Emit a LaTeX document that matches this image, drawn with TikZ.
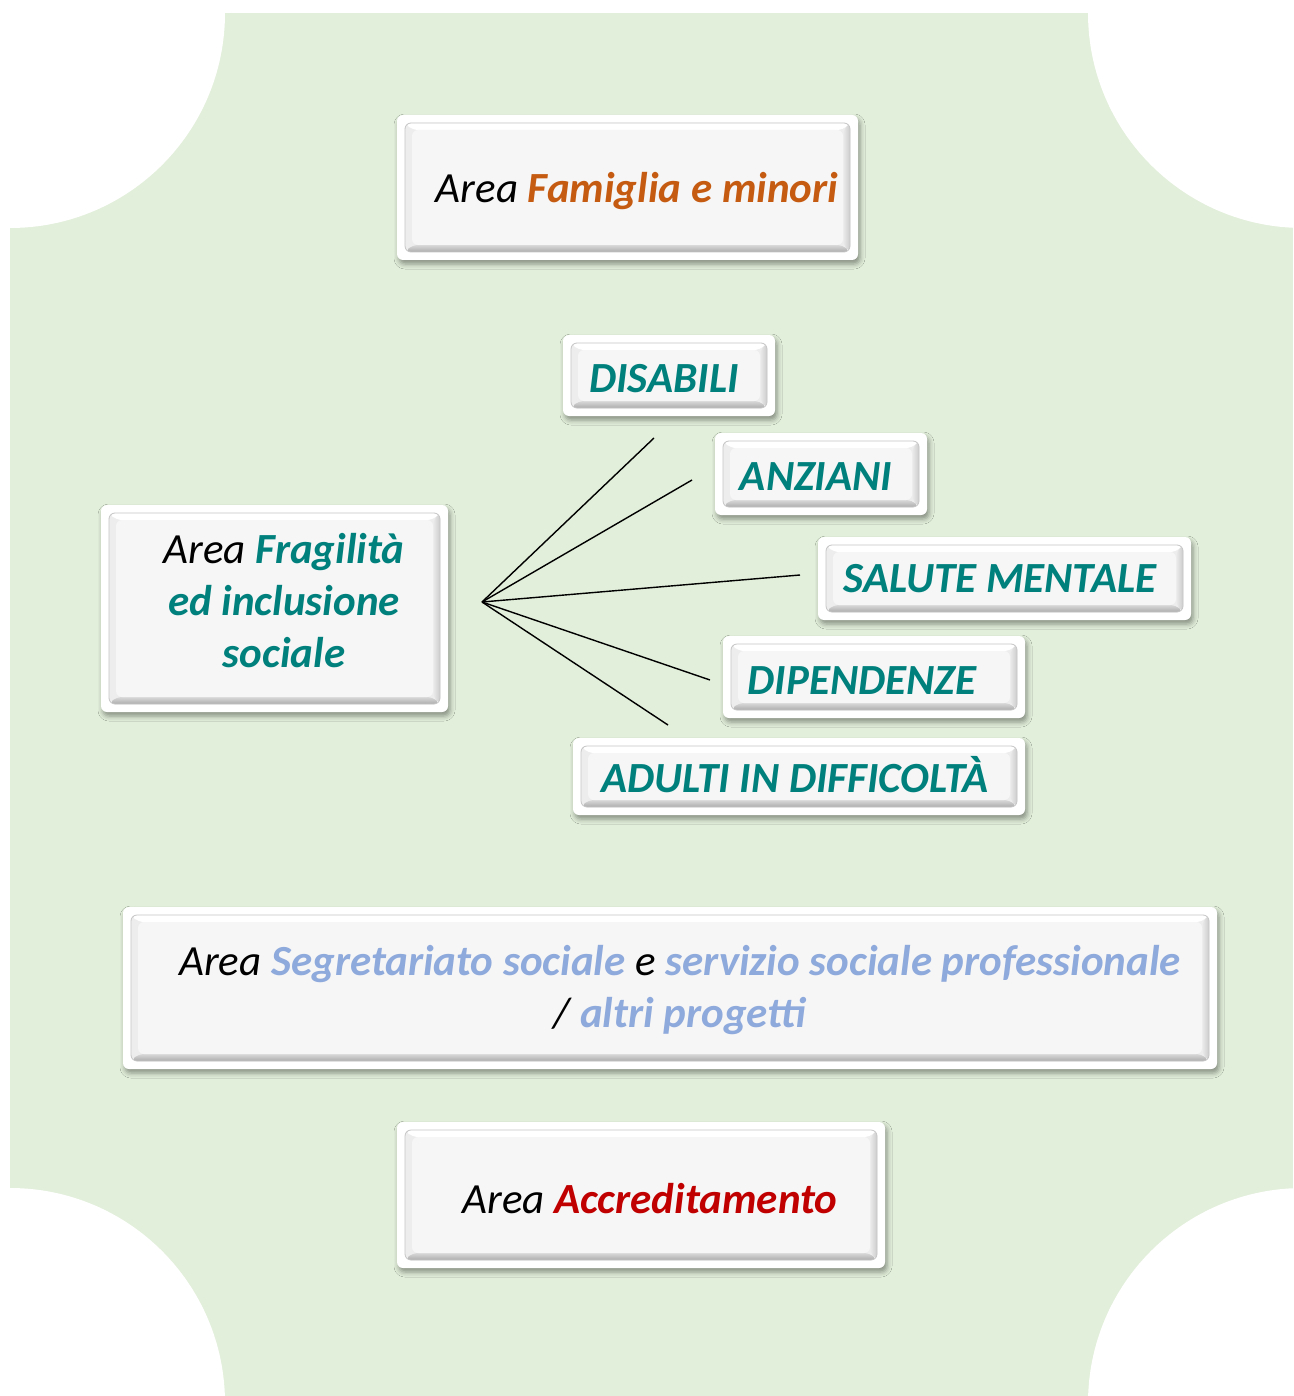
\documentclass[tikz,border=0pt]{standalone}
\usepackage{fontspec}
\setmainfont{Carlito}
\usetikzlibrary{shadows.blur,calc}
\definecolor{bggreen}{HTML}{E2EFDA}
\definecolor{teal}{RGB}{0,128,125}
\definecolor{orng}{RGB}{197,90,17}
\definecolor{dred}{RGB}{192,0,0}
\definecolor{lblue}{RGB}{142,169,219}
\definecolor{face}{HTML}{F6F6F6}
\newcommand\bevpart[2]{%
  \path[#1] let \p1=(path picture bounding box.north west),
               \p2=(path picture bounding box.south east),
               \n1={8pt}, \n2={15pt} in #2;}
\newcommand\bev{%
  \bevpart{fill=gray!14}{(\x1+\n1,\y1-\n1) rectangle (\x2-\n1,\y2+\n1)}%
  \bevpart{fill=white}{(\x1+\n1,\y1-\n1) -- (\x2-\n1,\y1-\n1) -- (\x2-\n2,\y1-\n2) -- (\x1+\n2,\y1-\n2) -- cycle}%
  \bevpart{top color=gray!30,bottom color=gray!65}{(\x1+\n1,\y2+\n1) -- (\x2-\n1,\y2+\n1) -- (\x2-\n2,\y2+\n2) -- (\x1+\n2,\y2+\n2) -- cycle}%
  \bevpart{left color=gray!15,right color=gray!40}{(\x2-\n1,\y1-\n1) -- (\x2-\n1,\y2+\n1) -- (\x2-\n2,\y2+\n2) -- (\x2-\n2,\y1-\n2) -- cycle}%
  \bevpart{fill=face}{(\x1+\n2,\y1-\n2) rectangle (\x2-\n2,\y2+\n2)}%
  \bevpart{draw=gray!45,line width=0.8pt}{(\x1+\n1,\y1-\n1) rectangle (\x2-\n1,\y2+\n1)}%
}
\tikzset{
  box/.style={rectangle, rounded corners=6pt, fill=white, inner sep=0pt,
    blur shadow={shadow xshift=2pt, shadow yshift=-4pt, shadow opacity=40, shadow blur radius=5pt},
    path picture={\bev}},
  lbl/.style={font=\fontsize{43}{52}\selectfont, align=center, inner sep=0pt},
  tt/.style={font=\fontsize{43}{52}\selectfont\bfseries\itshape, text=teal, inner sep=0pt},
  spoke/.style={line width=1.4pt, black}
}
\begin{document}
\begin{tikzpicture}[x=1pt,y=-1pt]
\useasboundingbox (0,0) rectangle (1293,1396);
\begin{scope}
\clip (0,0) rectangle (1293,1396);
\fill[bggreen] (10,13) rectangle (1293,1396);
\fill[white] (10,13) circle (215pt) (1303,13) circle (215pt)
             (10,1403) circle (215pt) (1303,1403) circle (215pt);
\end{scope}

% boxes
\node[box, minimum width=461pt, minimum height=145pt] (fam) at (627.5,187.5) {};
\node[box, minimum width=347pt, minimum height=207pt] (frag) at (274.5,608.5) {};
\node[box, minimum width=212pt, minimum height=81pt] (dis) at (669,375.5) {};
\node[box, minimum width=212pt, minimum height=82pt] (anz) at (821,474) {};
\node[box, minimum width=373pt, minimum height=83pt] (sal) at (1004.5,578.5) {};
\node[box, minimum width=302pt, minimum height=82pt] (dip) at (874,677) {};
\node[box, minimum width=452pt, minimum height=77pt] (adu) at (799,776.5) {};
\node[box, minimum width=1094pt, minimum height=162pt] (seg) at (670,988) {};
\node[box, minimum width=488pt, minimum height=146pt] (acc) at (641,1195) {};

% texts
\node[lbl] (famT) at (637,191) {\itshape Area \textbf{\color{orng}Famiglia e minori}};
\node[lbl] (fragT) at (284,601) {\itshape Area \textbf{\color{teal}Fragilità}\\\itshape\bfseries\color{teal}ed inclusione\\\itshape\bfseries\color{teal}sociale};
\node[tt] (disT) at (664,379) {DISABILI};
\node[tt] (anzT) at (816,477) {ANZIANI};
\node[tt] (salT) at (1000,579) {SALUTE MENTALE};
\node[tt] (dipT) at (862,681) {DIPENDENZE};
\node[tt] (aduT) at (795,775) {ADULTI IN DIFFICOLTÀ};
\node[lbl] (segT) at (680,990) {\itshape Area \textbf{\color{lblue}Segretariato sociale} e \textbf{\color{lblue}servizio sociale professionale}\\\itshape / \textbf{\color{lblue}altri progetti}};
\node[lbl] (accT) at (650,1199) {\itshape Area \textbf{\color{dred}Accreditamento}};

% spokes
\coordinate (hub) at (482,602);
\coordinate (e1) at (654,438);
\coordinate (e2) at (692,480);
\coordinate (e3) at (800,575);
\coordinate (e4) at (710,680);
\coordinate (e5) at (668,725);
\foreach \e in {e1,e2,e3,e4,e5} \draw[spoke] (hub) -- (\e);
\end{tikzpicture}
\end{document}
